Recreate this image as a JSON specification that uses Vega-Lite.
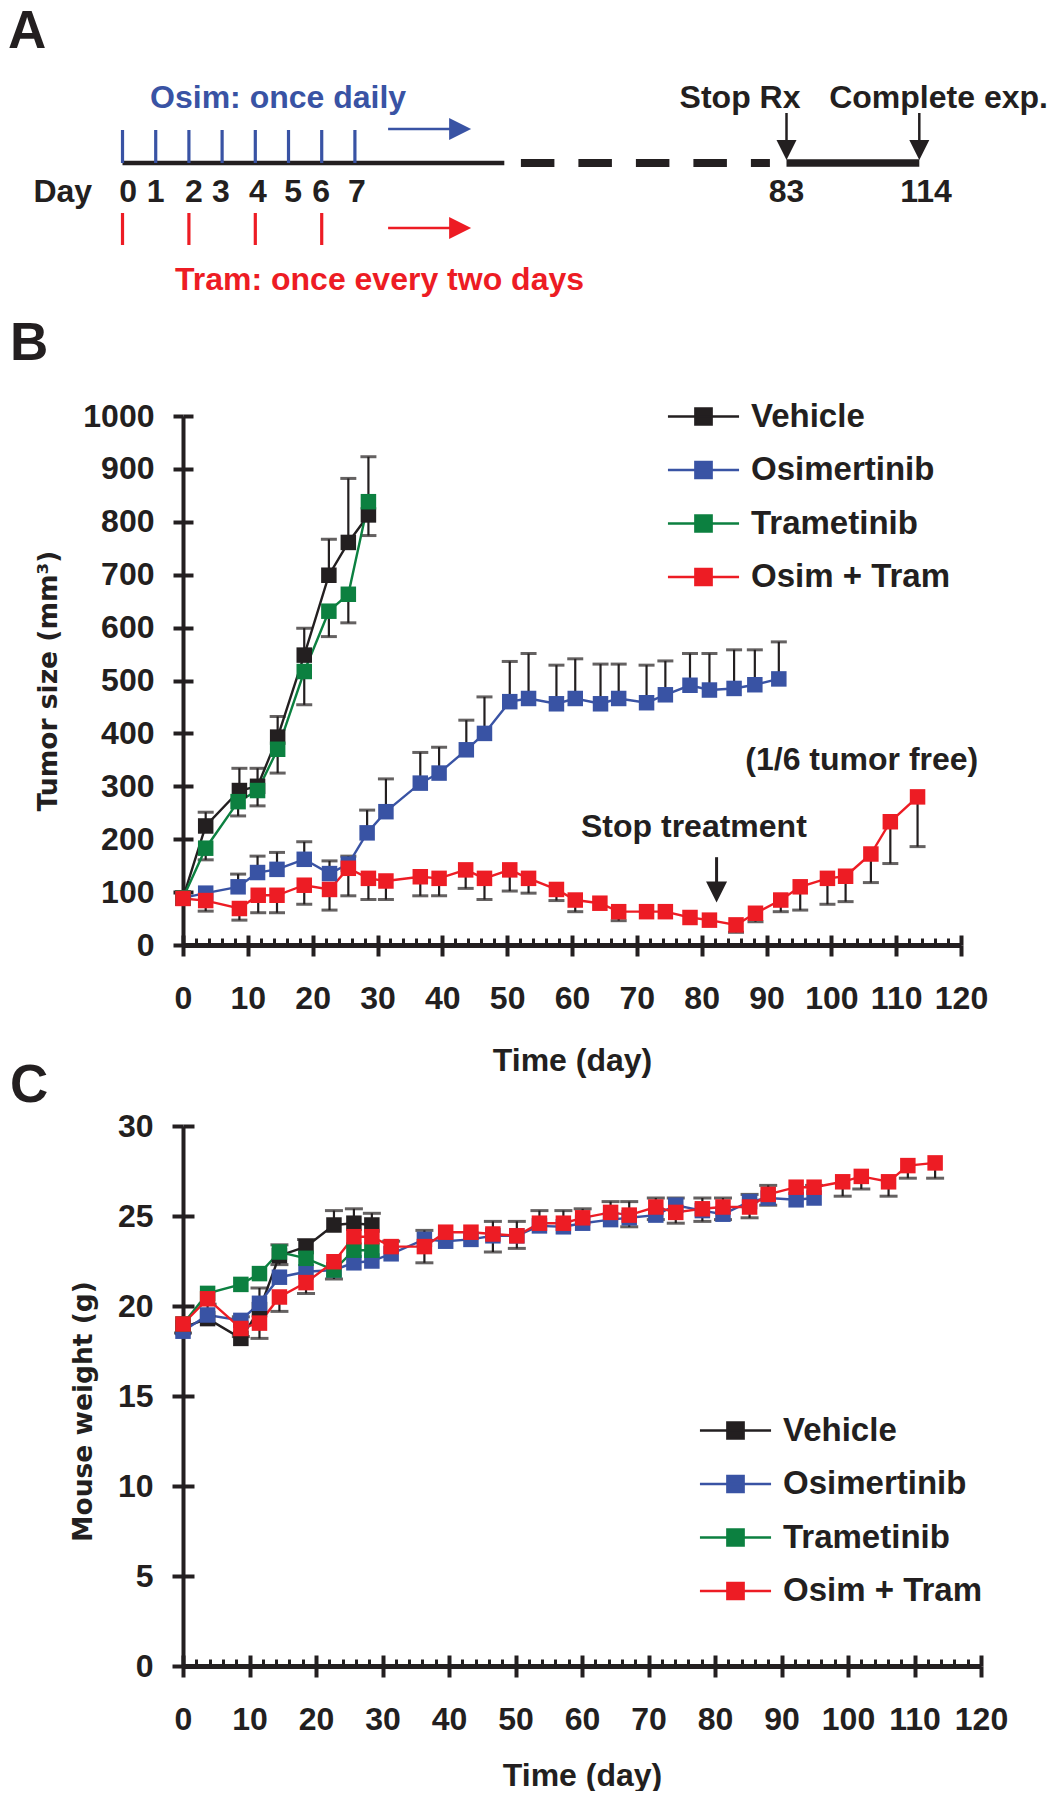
{
  "$schema": "https://vega.github.io/schema/vega-lite/v6.json",
  "background": "white",
  "padding": {"left": 7, "top": 0, "right": 0, "bottom": 0},
  "bounds": "flush",
  "spacing": 181,
  "config": {
    "view": {"stroke": null},
    "font": "Liberation Sans",
    "axis": {"grid": false, "labelFont": "Liberation Sans", "labelFontSize": 32, "labelFontWeight": "bold", "labelColor": "#231f20", "tickColor": "#231f20", "domainColor": "#231f20", "titleFont": "Liberation Sans", "titleFontSize": 32, "titleFontWeight": "bold", "titleColor": "#231f20", "labelFlush": false, "labelOverlap": false, "tickCap": "butt", "format": "d"}
  },
  "resolve": {"scale": {"x": "independent", "y": "independent", "color": "shared"}, "legend": {"color": "independent"}},
  "datasets": {
    "schemSegments": [{"kind": "solid", "u": 0, "u2": 11.5, "y": 0}, {"kind": "dash", "u": 12.0, "u2": 19.5, "y": 0}, {"kind": "thick", "u": 20, "u2": 24, "y": 0}],
    "osimDoses": [{"u": 0, "y": 0, "y2": 3.3}, {"u": 1, "y": 0, "y2": 3.3}, {"u": 2, "y": 0, "y2": 3.3}, {"u": 3, "y": 0, "y2": 3.3}, {"u": 4, "y": 0, "y2": 3.3}, {"u": 5, "y": 0, "y2": 3.3}, {"u": 6, "y": 0, "y2": 3.3}, {"u": 7, "y": 0, "y2": 3.3}],
    "tramDoses": [{"u": 0, "y": -5.0, "y2": -8.2}, {"u": 2, "y": -5.0, "y2": -8.2}, {"u": 4, "y": -5.0, "y2": -8.2}, {"u": 6, "y": -5.0, "y2": -8.2}],
    "schemEvents": [{"event": "Stop Rx", "u": 20, "y": 5.0, "y2": 1.8, "yh": 1.3}, {"event": "Complete exp.", "u": 24, "y": 5.0, "y2": 1.8, "yh": 1.3}],
    "schemArrows": [{"drug": "Osim", "u": 8.0, "u2": 10.0, "uh": 10.17, "y": 3.4}, {"drug": "Tram", "u": 8.0, "u2": 10.0, "uh": 10.17, "y": -6.5}],
    "dayLabels": [{"label": "Day", "u": -1.8, "y": -2.9}, {"label": "0", "u": 0.17, "y": -2.9}, {"label": "1", "u": 1.0, "y": -2.9}, {"label": "2", "u": 2.15, "y": -2.9}, {"label": "3", "u": 2.96, "y": -2.9}, {"label": "4", "u": 4.08, "y": -2.9}, {"label": "5", "u": 5.14, "y": -2.9}, {"label": "6", "u": 5.98, "y": -2.9}, {"label": "7", "u": 7.06, "y": -2.9}, {"label": "83", "u": 20, "y": -2.9}, {"label": "114", "u": 24.2, "y": -2.9}],
    "schemTitles": [{"label": "Osim: once daily", "drug": "Osim", "u": 0.83, "y": 6.5}, {"label": "Tram: once every two days", "drug": "Tram", "u": 1.58, "y": -11.7}, {"label": "Stop Rx", "drug": "none", "u": 18.6, "y": 6.5}, {"label": "Complete exp.", "drug": "none", "u": 24.58, "y": 6.5}],
    "letterA": [{"label": "A", "u": -3.45, "y": 13.1}],
    "tumor": [
      {"g": "Vehicle", "day": 0, "v": 89},
      {"g": "Vehicle", "day": 3.5, "v": 225, "e": 251},
      {"g": "Vehicle", "day": 8.7, "v": 292, "e": 334},
      {"g": "Vehicle", "day": 11.5, "v": 300, "e": 334},
      {"g": "Vehicle", "day": 14.6, "v": 393, "e": 432},
      {"g": "Vehicle", "day": 18.7, "v": 548, "e": 599},
      {"g": "Vehicle", "day": 22.5, "v": 699, "e": 767},
      {"g": "Vehicle", "day": 25.5, "v": 761, "e": 882},
      {"g": "Vehicle", "day": 28.6, "v": 813, "e": 923},
      {"g": "Osimertinib", "day": 0, "v": 89},
      {"g": "Osimertinib", "day": 3.5, "v": 98},
      {"g": "Osimertinib", "day": 8.5, "v": 110, "e": 134},
      {"g": "Osimertinib", "day": 11.5, "v": 137, "e": 168},
      {"g": "Osimertinib", "day": 14.5, "v": 143, "e": 175},
      {"g": "Osimertinib", "day": 18.7, "v": 162, "e": 195},
      {"g": "Osimertinib", "day": 22.6, "v": 135, "e": 159},
      {"g": "Osimertinib", "day": 25.5, "v": 153, "e": 168},
      {"g": "Osimertinib", "day": 28.4, "v": 212, "e": 255},
      {"g": "Osimertinib", "day": 31.3, "v": 252, "e": 314},
      {"g": "Osimertinib", "day": 36.6, "v": 306, "e": 364},
      {"g": "Osimertinib", "day": 39.5, "v": 325, "e": 374},
      {"g": "Osimertinib", "day": 43.7, "v": 369, "e": 425},
      {"g": "Osimertinib", "day": 46.5, "v": 400, "e": 469},
      {"g": "Osimertinib", "day": 50.4, "v": 460, "e": 536},
      {"g": "Osimertinib", "day": 53.3, "v": 466, "e": 551},
      {"g": "Osimertinib", "day": 57.6, "v": 456, "e": 529},
      {"g": "Osimertinib", "day": 60.5, "v": 466, "e": 541},
      {"g": "Osimertinib", "day": 64.4, "v": 456, "e": 531},
      {"g": "Osimertinib", "day": 67.2, "v": 466, "e": 531},
      {"g": "Osimertinib", "day": 71.5, "v": 458, "e": 529},
      {"g": "Osimertinib", "day": 74.4, "v": 473, "e": 537},
      {"g": "Osimertinib", "day": 78.2, "v": 491, "e": 551},
      {"g": "Osimertinib", "day": 81.2, "v": 482, "e": 551},
      {"g": "Osimertinib", "day": 85.0, "v": 485, "e": 558},
      {"g": "Osimertinib", "day": 88.2, "v": 492, "e": 558},
      {"g": "Osimertinib", "day": 91.9, "v": 503, "e": 573},
      {"g": "Trametinib", "day": 0, "v": 89},
      {"g": "Trametinib", "day": 3.5, "v": 183, "e": 161},
      {"g": "Trametinib", "day": 8.5, "v": 271, "e": 244},
      {"g": "Trametinib", "day": 11.5, "v": 292, "e": 263},
      {"g": "Trametinib", "day": 14.6, "v": 370, "e": 325},
      {"g": "Trametinib", "day": 18.7, "v": 517, "e": 454},
      {"g": "Trametinib", "day": 22.5, "v": 631, "e": 583},
      {"g": "Trametinib", "day": 25.5, "v": 663, "e": 609},
      {"g": "Trametinib", "day": 28.6, "v": 838, "e": 774},
      {"g": "Osim + Tram", "day": 0, "v": 88},
      {"g": "Osim + Tram", "day": 3.5, "v": 84, "e": 64},
      {"g": "Osim + Tram", "day": 8.7, "v": 69, "e": 47},
      {"g": "Osim + Tram", "day": 11.6, "v": 94, "e": 61},
      {"g": "Osim + Tram", "day": 14.5, "v": 94, "e": 61},
      {"g": "Osim + Tram", "day": 18.7, "v": 113, "e": 77},
      {"g": "Osim + Tram", "day": 22.6, "v": 105, "e": 66},
      {"g": "Osim + Tram", "day": 25.5, "v": 145, "e": 93},
      {"g": "Osim + Tram", "day": 28.6, "v": 126, "e": 86},
      {"g": "Osim + Tram", "day": 31.3, "v": 121, "e": 86},
      {"g": "Osim + Tram", "day": 36.6, "v": 129, "e": 93},
      {"g": "Osim + Tram", "day": 39.5, "v": 126, "e": 93},
      {"g": "Osim + Tram", "day": 43.6, "v": 142, "e": 107},
      {"g": "Osim + Tram", "day": 46.5, "v": 126, "e": 86},
      {"g": "Osim + Tram", "day": 50.4, "v": 142, "e": 102},
      {"g": "Osim + Tram", "day": 53.3, "v": 126, "e": 98},
      {"g": "Osim + Tram", "day": 57.6, "v": 105, "e": 84},
      {"g": "Osim + Tram", "day": 60.5, "v": 85, "e": 63},
      {"g": "Osim + Tram", "day": 64.3, "v": 79},
      {"g": "Osim + Tram", "day": 67.2, "v": 63, "e": 46},
      {"g": "Osim + Tram", "day": 71.5, "v": 63},
      {"g": "Osim + Tram", "day": 74.4, "v": 63},
      {"g": "Osim + Tram", "day": 78.2, "v": 52},
      {"g": "Osim + Tram", "day": 81.2, "v": 47},
      {"g": "Osim + Tram", "day": 85.3, "v": 38, "e": 24},
      {"g": "Osim + Tram", "day": 88.3, "v": 60, "e": 44},
      {"g": "Osim + Tram", "day": 92.2, "v": 85, "e": 63},
      {"g": "Osim + Tram", "day": 95.2, "v": 110, "e": 66},
      {"g": "Osim + Tram", "day": 99.4, "v": 126, "e": 77},
      {"g": "Osim + Tram", "day": 102.2, "v": 130, "e": 82},
      {"g": "Osim + Tram", "day": 106.1, "v": 172, "e": 118},
      {"g": "Osim + Tram", "day": 109.1, "v": 233, "e": 154},
      {"g": "Osim + Tram", "day": 113.3, "v": 280, "e": 186}
    ],
    "notesB": [{"label": "Stop treatment", "day": 78.8, "v": 223}, {"label": "(1/6 tumor free)", "day": 104.7, "v": 350}],
    "stopArrow": [{"day": 82.3, "v": 166, "v2": 106, "vh": 100}],
    "letterB": [{"label": "B", "day": -26.7, "v": 1136}],
    "weight": [
      {"g": "Vehicle", "day": 0, "v": 18.8},
      {"g": "Vehicle", "day": 3.7, "v": 19.3, "e": 20.1},
      {"g": "Vehicle", "day": 8.7, "v": 18.2, "e": 19.4},
      {"g": "Vehicle", "day": 11.5, "v": 19.8, "e": 21.0},
      {"g": "Vehicle", "day": 14.5, "v": 22.8, "e": 23.4},
      {"g": "Vehicle", "day": 18.5, "v": 23.3, "e": 23.7},
      {"g": "Vehicle", "day": 22.7, "v": 24.5, "e": 25.3},
      {"g": "Vehicle", "day": 25.7, "v": 24.6, "e": 25.4},
      {"g": "Vehicle", "day": 28.4, "v": 24.5, "e": 25.15},
      {"g": "Osimertinib", "day": 0, "v": 18.6},
      {"g": "Osimertinib", "day": 3.7, "v": 19.5},
      {"g": "Osimertinib", "day": 8.7, "v": 19.2},
      {"g": "Osimertinib", "day": 11.5, "v": 20.15},
      {"g": "Osimertinib", "day": 14.5, "v": 21.6},
      {"g": "Osimertinib", "day": 18.5, "v": 21.9},
      {"g": "Osimertinib", "day": 22.7, "v": 22.0},
      {"g": "Osimertinib", "day": 25.7, "v": 22.4},
      {"g": "Osimertinib", "day": 28.4, "v": 22.5},
      {"g": "Osimertinib", "day": 31.3, "v": 22.9, "e": 23.6},
      {"g": "Osimertinib", "day": 36.3, "v": 23.7, "e": 24.2},
      {"g": "Osimertinib", "day": 39.5, "v": 23.6},
      {"g": "Osimertinib", "day": 43.3, "v": 23.7},
      {"g": "Osimertinib", "day": 46.6, "v": 23.9, "e": 24.7},
      {"g": "Osimertinib", "day": 50.2, "v": 23.9, "e": 24.7},
      {"g": "Osimertinib", "day": 53.6, "v": 24.45, "e": 25.3},
      {"g": "Osimertinib", "day": 57.2, "v": 24.4, "e": 25.3},
      {"g": "Osimertinib", "day": 60.1, "v": 24.6, "e": 25.4},
      {"g": "Osimertinib", "day": 64.3, "v": 24.8, "e": 25.8},
      {"g": "Osimertinib", "day": 67.1, "v": 24.9, "e": 25.8},
      {"g": "Osimertinib", "day": 71.1, "v": 25.05, "e": 26.0},
      {"g": "Osimertinib", "day": 74.1, "v": 25.6, "e": 26.0},
      {"g": "Osimertinib", "day": 78.1, "v": 25.3, "e": 26.0},
      {"g": "Osimertinib", "day": 81.2, "v": 25.1, "e": 26.0},
      {"g": "Osimertinib", "day": 85.2, "v": 25.8, "e": 26.2},
      {"g": "Osimertinib", "day": 88.0, "v": 26.0, "e": 26.7},
      {"g": "Osimertinib", "day": 92.2, "v": 25.9},
      {"g": "Osimertinib", "day": 94.9, "v": 26.0, "e": 26.7},
      {"g": "Trametinib", "day": 0, "v": 19.0},
      {"g": "Trametinib", "day": 3.7, "v": 20.7},
      {"g": "Trametinib", "day": 8.7, "v": 21.2},
      {"g": "Trametinib", "day": 11.5, "v": 21.8},
      {"g": "Trametinib", "day": 14.5, "v": 23.0, "e": 22.3},
      {"g": "Trametinib", "day": 18.5, "v": 22.65},
      {"g": "Trametinib", "day": 22.7, "v": 22.0, "e": 21.5},
      {"g": "Trametinib", "day": 25.7, "v": 23.1},
      {"g": "Trametinib", "day": 28.4, "v": 23.1},
      {"g": "Osim + Tram", "day": 0, "v": 19.0, "e": 18.5},
      {"g": "Osim + Tram", "day": 3.7, "v": 20.4},
      {"g": "Osim + Tram", "day": 8.7, "v": 18.75, "e": 18.3},
      {"g": "Osim + Tram", "day": 11.5, "v": 19.05, "e": 18.2},
      {"g": "Osim + Tram", "day": 14.5, "v": 20.5, "e": 19.7},
      {"g": "Osim + Tram", "day": 18.5, "v": 21.3, "e": 20.7},
      {"g": "Osim + Tram", "day": 22.7, "v": 22.46},
      {"g": "Osim + Tram", "day": 25.7, "v": 23.85},
      {"g": "Osim + Tram", "day": 28.4, "v": 23.85},
      {"g": "Osim + Tram", "day": 31.3, "v": 23.3},
      {"g": "Osim + Tram", "day": 36.3, "v": 23.3, "e": 22.4},
      {"g": "Osim + Tram", "day": 39.5, "v": 24.1},
      {"g": "Osim + Tram", "day": 43.3, "v": 24.1},
      {"g": "Osim + Tram", "day": 46.6, "v": 24.0, "e": 23.0},
      {"g": "Osim + Tram", "day": 50.2, "v": 23.9, "e": 23.2},
      {"g": "Osim + Tram", "day": 53.6, "v": 24.6},
      {"g": "Osim + Tram", "day": 57.2, "v": 24.6},
      {"g": "Osim + Tram", "day": 60.1, "v": 24.9},
      {"g": "Osim + Tram", "day": 64.3, "v": 25.2},
      {"g": "Osim + Tram", "day": 67.1, "v": 25.05, "e": 24.4},
      {"g": "Osim + Tram", "day": 71.1, "v": 25.5, "e": 24.8},
      {"g": "Osim + Tram", "day": 74.1, "v": 25.2, "e": 24.6},
      {"g": "Osim + Tram", "day": 78.1, "v": 25.4, "e": 24.7},
      {"g": "Osim + Tram", "day": 81.2, "v": 25.5, "e": 24.8},
      {"g": "Osim + Tram", "day": 85.2, "v": 25.5, "e": 24.9},
      {"g": "Osim + Tram", "day": 88.0, "v": 26.2, "e": 25.6},
      {"g": "Osim + Tram", "day": 92.2, "v": 26.6},
      {"g": "Osim + Tram", "day": 94.9, "v": 26.6},
      {"g": "Osim + Tram", "day": 99.2, "v": 26.9, "e": 26.1},
      {"g": "Osim + Tram", "day": 102.0, "v": 27.2, "e": 26.5},
      {"g": "Osim + Tram", "day": 106.1, "v": 26.9, "e": 26.1},
      {"g": "Osim + Tram", "day": 109.0, "v": 27.8, "e": 27.1},
      {"g": "Osim + Tram", "day": 113.1, "v": 27.95, "e": 27.1}
    ],
    "letterC": [{"label": "C", "day": -26.0, "v": 32.2}]
  },
  "vconcat": [
    {
      "width": 778,
      "height": 235,
      "encoding": {
        "x": {"field": "u", "type": "quantitative", "scale": {"domain": [1.822, 25.256], "nice": false, "zero": false}, "axis": null},
        "y": {"field": "y", "type": "quantitative", "scale": {"domain": [-7.2, 16.3], "nice": false, "zero": false}, "axis": null}
      },
      "layer": [
        {"data": {"name": "schemSegments"}, "transform": [{"filter": "datum.kind === 'solid'"}], "mark": {"type": "rule", "color": "#231f20", "strokeWidth": 4.5, "strokeCap": "butt"}, "encoding": {"x2": {"field": "u2"}}},
        {"data": {"name": "schemSegments"}, "transform": [{"filter": "datum.kind === 'dash'"}], "mark": {"type": "rule", "color": "#231f20", "strokeWidth": 8, "strokeCap": "butt", "strokeDash": [33.5, 24]}, "encoding": {"x2": {"field": "u2"}}},
        {"data": {"name": "schemSegments"}, "transform": [{"filter": "datum.kind === 'thick'"}], "mark": {"type": "rule", "color": "#231f20", "strokeWidth": 7.5, "strokeCap": "butt"}, "encoding": {"x2": {"field": "u2"}}},
        {"data": {"name": "osimDoses"}, "mark": {"type": "rule", "color": "#3953a4", "strokeWidth": 3.2, "strokeCap": "butt"}, "encoding": {"y2": {"field": "y2"}}},
        {"data": {"name": "tramDoses"}, "mark": {"type": "rule", "color": "#ed1c24", "strokeWidth": 3.2, "strokeCap": "butt"}, "encoding": {"y2": {"field": "y2"}}},
        {"data": {"name": "schemEvents"}, "mark": {"type": "rule", "color": "#231f20", "strokeWidth": 2.5}, "encoding": {"y2": {"field": "y2"}}},
        {"data": {"name": "schemEvents"}, "mark": {"type": "point", "shape": "M-1,-1L1,-1L0,1Z", "filled": true, "opacity": 1, "color": "#231f20", "size": 400}, "encoding": {"y": {"field": "yh", "type": "quantitative"}}},
        {"data": {"name": "schemArrows"}, "mark": {"type": "rule", "strokeWidth": 2.6}, "encoding": {"x2": {"field": "u2"}, "color": {"condition": {"test": "datum.drug === 'Osim'", "value": "#3953a4"}, "value": "#ed1c24"}}},
        {"data": {"name": "schemArrows"}, "mark": {"type": "point", "shape": "M-1,-1L1,0L-1,1Z", "filled": true, "opacity": 1, "size": 484}, "encoding": {"x": {"field": "uh", "type": "quantitative"}, "color": {"condition": {"test": "datum.drug === 'Osim'", "value": "#3953a4"}, "value": "#ed1c24"}}},
        {"data": {"name": "dayLabels"}, "mark": {"type": "text", "font": "Liberation Sans", "fontWeight": "bold", "fontSize": 32, "align": "center", "baseline": "middle", "color": "#231f20"}, "encoding": {"text": {"field": "label"}}},
        {"data": {"name": "schemTitles"}, "transform": [{"filter": "datum.drug !== 'none'"}], "mark": {"type": "text", "font": "Liberation Sans", "fontWeight": "bold", "fontSize": 32, "align": "left", "baseline": "middle"}, "encoding": {"text": {"field": "label"}, "color": {"condition": {"test": "datum.drug === 'Osim'", "value": "#3953a4"}, "value": "#ed1c24"}}},
        {"data": {"name": "schemTitles"}, "transform": [{"filter": "datum.drug === 'none'"}], "mark": {"type": "text", "font": "Liberation Sans", "fontWeight": "bold", "fontSize": 32, "align": "center", "baseline": "middle", "color": "#231f20"}, "encoding": {"text": {"field": "label"}}},
        {"data": {"name": "letterA"}, "mark": {"type": "text", "font": "Liberation Sans", "fontWeight": "bold", "fontSize": 53, "align": "left", "baseline": "middle", "color": "#231f20"}, "encoding": {"text": {"field": "label"}}}
      ]
    },
    {
      "width": 778,
      "height": 529,
      "resolve": {"axis": {"x": "independent", "y": "independent"}},
      "encoding": {
        "x": {"field": "day", "type": "quantitative", "scale": {"domain": [0, 120], "nice": false, "zero": false}, "axis": null},
        "y": {"field": "v", "type": "quantitative", "scale": {"domain": [0, 1000], "nice": false, "zero": false}, "axis": null}
      },
      "layer": [
        {
          "data": {"name": "tumor"},
          "transform": [{"filter": "isValid(datum.e)"}],
          "mark": {"type": "rule", "color": "#231f20", "strokeWidth": 2.2},
          "encoding": {
            "x": {"field": "day", "type": "quantitative", "scale": {"domain": [0, 120], "nice": false, "zero": false},
                  "axis": {"orient": "bottom", "values": [0, 10, 20, 30, 40, 50, 60, 70, 80, 90, 100, 110, 120], "tickSize": 11, "tickWidth": 4, "domainWidth": 5, "labelPadding": 27, "title": "Time (day)", "titlePadding": 31}},
            "y": {"field": "v", "type": "quantitative", "scale": {"domain": [0, 1000], "nice": false, "zero": false},
                  "axis": {"orient": "left", "values": [0, 100, 200, 300, 400, 500, 600, 700, 800, 900, 1000], "tickSize": 10, "tickWidth": 4, "domainWidth": 4, "labelPadding": 19, "title": "Tumor size (mm³)", "titleFont": "DejaVu Sans", "titleFontSize": 26.5, "titlePadding": 20}},
            "y2": {"field": "e"}
          }
        },
        {
          "data": {"name": "tumor"},
          "transform": [{"filter": "isValid(datum.e)"}],
          "mark": {"type": "tick", "orient": "horizontal", "color": "#231f20", "size": 16, "thickness": 3},
          "encoding": {
            "x": {"field": "day", "type": "quantitative", "scale": {"domain": [0, 120], "nice": false, "zero": false},
                  "axis": {"orient": "bottom", "values": [0, 10, 20, 30, 40, 50, 60, 70, 80, 90, 100, 110, 120], "tickSize": -10, "tickWidth": 4, "domain": false, "labels": false, "title": null}},
            "y": {"field": "e", "type": "quantitative", "scale": {"domain": [0, 1000], "nice": false, "zero": false},
                  "axis": {"orient": "left", "values": [0, 100, 200, 300, 400, 500, 600, 700, 800, 900, 1000], "tickSize": -10, "tickWidth": 4, "domain": false, "labels": false, "title": null}}
          }
        },
        {
          "data": {"name": "tumor"},
          "mark": {"type": "line", "strokeWidth": 2.4},
          "encoding": {
            "x": {"field": "day", "type": "quantitative", "scale": {"domain": [0, 120], "nice": false, "zero": false},
                  "axis": {"orient": "bottom", "values": [2, 4, 6, 8, 12, 14, 16, 18, 22, 24, 26, 28, 32, 34, 36, 38, 42, 44, 46, 48, 52, 54, 56, 58, 62, 64, 66, 68, 72, 74, 76, 78, 82, 84, 86, 88, 92, 94, 96, 98, 102, 104, 106, 108, 112, 114, 116, 118], "tickSize": -7, "tickWidth": 3, "domain": false, "labels": false, "title": null}},
            "color": {"field": "g", "type": "nominal", "scale": {"domain": ["Vehicle", "Osimertinib", "Trametinib", "Osim + Tram"], "range": ["#231f20", "#3953a4", "#0c8040", "#ed1c24"]}}
          }
        },
        {
          "data": {"name": "tumor"},
          "mark": {"type": "point", "shape": "square", "filled": true, "opacity": 1, "size": 240, "strokeWidth": 0},
          "encoding": {
            "color": {"field": "g", "type": "nominal", "scale": {"domain": ["Vehicle", "Osimertinib", "Trametinib", "Osim + Tram"], "range": ["#231f20", "#3953a4", "#0c8040", "#ed1c24"]},
                      "legend": {"orient": "none", "legendX": 504, "legendY": -16, "title": null, "padding": 0, "symbolType": "M-3.95,0H3.95M-0.9,-0.9H0.9V0.9H-0.9Z", "symbolSize": 324, "symbolStrokeWidth": 2.5, "labelFont": "Liberation Sans", "labelFontSize": 33, "labelFontWeight": "bold", "labelColor": "#231f20", "labelOffset": 31, "labelLimit": 400, "rowPadding": 19.5,
                                 "encode": {"symbols": {"stroke": {"value": {"expr": "scale('color', datum.value)"}}, "fill": {"value": {"expr": "scale('color', datum.value)"}}}}}}
          }
        },
        {"data": {"name": "notesB"}, "mark": {"type": "text", "font": "Liberation Sans", "fontWeight": "bold", "fontSize": 32, "align": "center", "baseline": "middle", "color": "#231f20"}, "encoding": {"text": {"field": "label"}}},
        {"data": {"name": "stopArrow"}, "mark": {"type": "rule", "color": "#231f20", "strokeWidth": 3}, "encoding": {"y2": {"field": "v2"}}},
        {"data": {"name": "stopArrow"}, "mark": {"type": "point", "shape": "M-1,-1L1,-1L0,1Z", "filled": true, "opacity": 1, "color": "#231f20", "size": 441}, "encoding": {"y": {"field": "vh", "type": "quantitative", "scale": {"domain": [0, 1000], "nice": false, "zero": false}, "axis": null}}},
        {"data": {"name": "letterB"}, "mark": {"type": "text", "font": "Liberation Sans", "fontWeight": "bold", "fontSize": 53, "align": "left", "baseline": "middle", "color": "#231f20"}, "encoding": {"text": {"field": "label"}}}
      ]
    },
    {
      "width": 798,
      "height": 540,
      "resolve": {"axis": {"x": "independent", "y": "independent"}},
      "encoding": {
        "x": {"field": "day", "type": "quantitative", "scale": {"domain": [0, 120], "nice": false, "zero": false}, "axis": null},
        "y": {"field": "v", "type": "quantitative", "scale": {"domain": [0, 30], "nice": false, "zero": false}, "axis": null}
      },
      "layer": [
        {
          "data": {"name": "weight"},
          "transform": [{"filter": "isValid(datum.e)"}],
          "mark": {"type": "rule", "color": "#231f20", "strokeWidth": 2.2},
          "encoding": {
            "x": {"field": "day", "type": "quantitative", "scale": {"domain": [0, 120], "nice": false, "zero": false},
                  "axis": {"orient": "bottom", "values": [0, 10, 20, 30, 40, 50, 60, 70, 80, 90, 100, 110, 120], "tickSize": 11, "tickWidth": 4, "domainWidth": 5, "labelPadding": 27, "title": "Time (day)", "titlePadding": 25}},
            "y": {"field": "v", "type": "quantitative", "scale": {"domain": [0, 30], "nice": false, "zero": false},
                  "axis": {"orient": "left", "values": [0, 5, 10, 15, 20, 25, 30], "tickSize": 11, "tickWidth": 4, "domainWidth": 4, "labelPadding": 19, "title": "Mouse weight (g)", "titleFont": "DejaVu Sans", "titleFontSize": 26.5, "titlePadding": 20, "titleY": 285}},
            "y2": {"field": "e"}
          }
        },
        {
          "data": {"name": "weight"},
          "transform": [{"filter": "isValid(datum.e)"}],
          "mark": {"type": "tick", "orient": "horizontal", "color": "#231f20", "size": 18, "thickness": 3},
          "encoding": {
            "x": {"field": "day", "type": "quantitative", "scale": {"domain": [0, 120], "nice": false, "zero": false},
                  "axis": {"orient": "bottom", "values": [0, 10, 20, 30, 40, 50, 60, 70, 80, 90, 100, 110, 120], "tickSize": -11, "tickWidth": 4, "domain": false, "labels": false, "title": null}},
            "y": {"field": "e", "type": "quantitative", "scale": {"domain": [0, 30], "nice": false, "zero": false},
                  "axis": {"orient": "left", "values": [0, 5, 10, 15, 20, 25, 30], "tickSize": -11, "tickWidth": 4, "domain": false, "labels": false, "title": null}}
          }
        },
        {
          "data": {"name": "weight"},
          "mark": {"type": "line", "strokeWidth": 2.4},
          "encoding": {
            "x": {"field": "day", "type": "quantitative", "scale": {"domain": [0, 120], "nice": false, "zero": false},
                  "axis": {"orient": "bottom", "values": [2, 4, 6, 8, 12, 14, 16, 18, 22, 24, 26, 28, 32, 34, 36, 38, 42, 44, 46, 48, 52, 54, 56, 58, 62, 64, 66, 68, 72, 74, 76, 78, 82, 84, 86, 88, 92, 94, 96, 98, 102, 104, 106, 108, 112, 114, 116, 118], "tickSize": -7, "tickWidth": 3, "domain": false, "labels": false, "title": null}},
            "color": {"field": "g", "type": "nominal", "scale": {"domain": ["Vehicle", "Osimertinib", "Trametinib", "Osim + Tram"], "range": ["#231f20", "#3953a4", "#0c8040", "#ed1c24"]}}
          }
        },
        {
          "data": {"name": "weight"},
          "mark": {"type": "point", "shape": "square", "filled": true, "opacity": 1, "size": 240, "strokeWidth": 0},
          "encoding": {
            "color": {"field": "g", "type": "nominal", "scale": {"domain": ["Vehicle", "Osimertinib", "Trametinib", "Osim + Tram"], "range": ["#231f20", "#3953a4", "#0c8040", "#ed1c24"]},
                      "legend": {"orient": "none", "legendX": 536, "legendY": 288, "title": null, "padding": 0, "symbolType": "M-3.95,0H3.95M-0.9,-0.9H0.9V0.9H-0.9Z", "symbolSize": 324, "symbolStrokeWidth": 2.5, "labelFont": "Liberation Sans", "labelFontSize": 33, "labelFontWeight": "bold", "labelColor": "#231f20", "labelOffset": 31, "labelLimit": 400, "rowPadding": 19.5,
                                 "encode": {"symbols": {"stroke": {"value": {"expr": "scale('color', datum.value)"}}, "fill": {"value": {"expr": "scale('color', datum.value)"}}}}}}
          }
        },
        {"data": {"name": "letterC"}, "mark": {"type": "text", "font": "Liberation Sans", "fontWeight": "bold", "fontSize": 53, "align": "left", "baseline": "middle", "color": "#231f20"}, "encoding": {"text": {"field": "label"}}}
      ]
    }
  ]
}
